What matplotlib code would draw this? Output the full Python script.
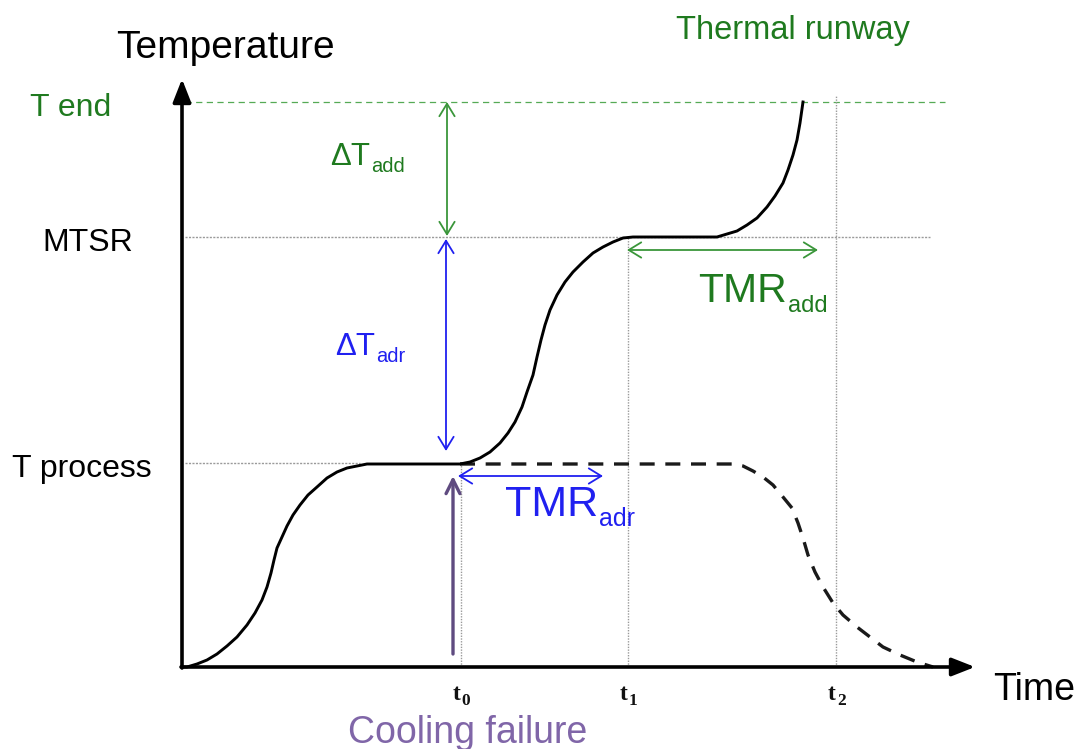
import numpy as np
import matplotlib
matplotlib.use("Agg")
import matplotlib.pyplot as plt

plt.rcParams['font.family'] = ['Liberation Sans', 'DejaVu Sans']

#%% Data (time and temperature in arbitrary units)
T_process   = 204
MTSR        = 430
T_end       = 565

t0          = 279
t1          = 446
t2          = 654

# reaction with cooling failure at t0 -> thermal runaway
run_time    = [0, 5, 15, 25, 35, 45, 55, 65, 73, 80, 85, 89, 92, 95, 100,
               105, 111, 118, 126, 135, 145, 155, 165, 175, 185, 198,
               278, 288, 298, 308, 318, 326, 333, 340, 345, 351, 355, 359,
               363, 368, 375, 383, 391, 401, 411, 421, 431, 441, 451,
               535, 545, 555, 565, 575, 585, 593, 601, 606, 611, 615, 618, 621]
run_temp    = [0, 0, 3, 7, 13, 21, 30, 42, 54, 67, 80, 94, 107, 119, 130,
               141, 152, 162, 172, 180, 189, 195, 199, 201, 203, 203,
               203, 205, 209, 215, 224, 234, 245, 260, 275, 292, 310, 327,
               342, 357, 372, 385, 395, 405, 414, 420, 425, 429, 430,
               430, 433, 436, 442, 449, 460, 471, 484, 497, 512, 527, 544, 565]

# normal process (no cooling failure)
norm_time   = [278, 551, 561, 571, 581, 591, 601, 610, 616, 621, 626, 633,
               641, 651, 661, 675, 688, 701, 718, 735, 751]
norm_temp   = [203, 203, 201, 196, 190, 182, 170, 159, 144, 129, 112, 95,
               80, 64, 52, 40, 30, 20, 12, 5, 0]

level_names = ['T end', 'MTSR', 'T process']
level_vals  = [T_end, MTSR, T_process]
time_names  = ['0', '1', '2']
time_vals   = [t0, t1, t2]

#### Colours
green_txt   = '#1f7a1f'
green_ln    = '#3a963a'
green_dash  = '#55aa55'
blue        = '#2020f0'
purple_txt  = '#8066a8'
purple_ln   = '#5f4b80'
grey        = '#9a9a9a'

#### Initialize Figure (data units == pixels offset from the origin)
fig = plt.figure(figsize=(10.81, 7.49), dpi=100)
ax  = fig.add_axes([0, 0, 1, 1])
ax.set_xlim(-182, 899)
ax.set_ylim(-82, 667)
ax.axis('off')

#### Reference lines
ax.plot([3, 763], [T_end, T_end], color=green_dash, lw=0.9, ls=(0, (5, 3.5)))
ax.plot([3, 748], [MTSR, MTSR], color=grey, lw=1.0, ls=(0, (1.5, 1)))
ax.plot([3, 178], [T_process, T_process], color=grey, lw=1.0, ls=(0, (1.5, 1)))
ax.plot([t0, t0], [0, T_process], color=grey, lw=1.0, ls=(0, (1, 1)))
ax.plot([t1, t1], [0, MTSR], color=grey, lw=1.0, ls=(0, (1, 1)))
ax.plot([t2, t2], [0, 572], color=grey, lw=1.0, ls=(0, (1, 1)))

#### Curves
ax.plot(norm_time, norm_temp, color='#1a1a1a', lw=2.4, ls=(0, (4.5, 3.2)),
        solid_capstyle='butt')
ax.plot(run_time, run_temp, color='black', lw=2.1, solid_joinstyle='round')

#### Axes arrows
ax.annotate('', xy=(0, 588), xytext=(0, -1),
            arrowprops=dict(arrowstyle='-|>,head_length=1.4,head_width=0.55',
                            lw=2.6, color='black', shrinkA=0, shrinkB=0))
ax.annotate('', xy=(793, 0), xytext=(-1, 0),
            arrowprops=dict(arrowstyle='-|>,head_length=1.4,head_width=0.55',
                            lw=2.6, color='black', shrinkA=0, shrinkB=0))

#### Dimension arrows
dbl = '<->,head_length=0.9,head_width=0.55'
ax.annotate('', xy=(265, T_end), xytext=(265, MTSR + 1),
            arrowprops=dict(arrowstyle=dbl, lw=1.3, color=green_ln,
                            shrinkA=0, shrinkB=0))
ax.annotate('', xy=(264, MTSR - 2), xytext=(264, T_process + 12),
            arrowprops=dict(arrowstyle=dbl, lw=1.3, color=blue,
                            shrinkA=0, shrinkB=0))
ax.annotate('', xy=(t0 - 3, 191), xytext=(421, 191),
            arrowprops=dict(arrowstyle=dbl, lw=1.3, color=blue,
                            shrinkA=0, shrinkB=0))
ax.annotate('', xy=(t1 - 1, 417), xytext=(636, 417),
            arrowprops=dict(arrowstyle=dbl, lw=1.3, color=green_ln,
                            shrinkA=0, shrinkB=0))
ax.annotate('', xy=(271, 191), xytext=(271, 13),
            arrowprops=dict(arrowstyle='->,head_length=1.0,head_width=0.5',
                            lw=2.4, color=purple_ln, shrinkA=0, shrinkB=0))

#### Text
ax.text(43, 619, 'Temperature', fontsize=28, ha='center', va='center')
ax.text(811, -23, 'Time', fontsize=27, ha='left', va='center')
ax.text(494, 637, 'Thermal runway', fontsize=23.5, color=green_txt,
        ha='left', va='center')
ax.text(166, -76, 'Cooling failure', fontsize=27, color=purple_txt,
        ha='left', va='baseline')

lvl_x       = [-152, -140, -170]
lvl_col     = [green_txt, 'black', 'black']
for name, val, x, c in zip(level_names, level_vals, lvl_x, lvl_col):
    ax.text(x, val - 6, name, fontsize=23, color=c, ha='left', va='center')

fig.canvas.draw()

def sub_label(x, y, main, sub, color, size, sub_size, drop, **kw):
    t   = ax.text(x, y, main, fontsize=size, color=color,
                  ha='left', va='baseline', **kw)
    bb  = t.get_window_extent(renderer=fig.canvas.get_renderer())
    x1  = ax.transData.inverted().transform((bb.x1, bb.y0))[0]
    ax.text(x1 + 1, y - drop, sub, fontsize=sub_size, color=color,
            ha='left', va='baseline', **kw)

sub_label(148, 502, '\u0394T', 'add', green_txt, 22.5, 14.5, 7)
sub_label(153, 312, '\u0394T', 'adr', blue, 22.5, 14.5, 7)
sub_label(516, 365, 'TMR', 'add', green_txt, 29.5, 17, 10)
sub_label(323, 151, 'TMR', 'adr', blue, 31, 18, 10)

for name, tv in zip(time_names, time_vals):
    sub_label(tv - 8, -33, 't', name, '#111111', 17, 12.5, 5,
              family='Liberation Serif', fontweight='bold')

plt.savefig('out.png', dpi=100)
